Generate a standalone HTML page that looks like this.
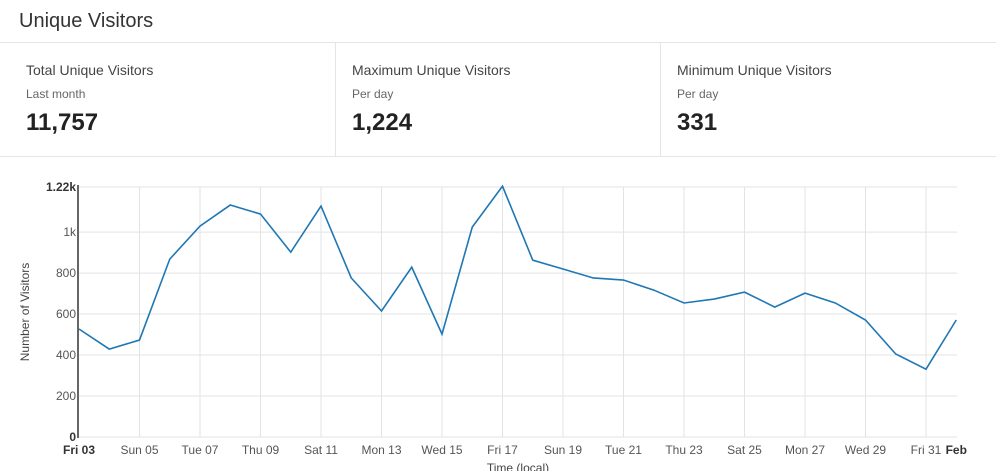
<!DOCTYPE html>
<html><head><meta charset="utf-8"><style>
body{margin:0;width:996px;height:471px;overflow:hidden;background:#fff;font-family:"Liberation Sans",sans-serif;color:#222}
.title{position:absolute;left:19px;top:10px;font-size:20px;color:#333}
.hr{position:absolute;left:0;width:996px;height:1px;background:#e5e5e5}
.card{position:absolute;top:43px;height:113px;width:325px}
.card .l{position:absolute;left:0;top:19px;font-size:14px;color:#444}
.card .s{position:absolute;left:0;top:44px;font-size:12px;color:#666}
.card .v{position:absolute;left:0;top:66px;font-size:24px;font-weight:bold;color:#222}
.sep{position:absolute;top:43px;width:1px;height:113px;background:#e5e5e5}
svg{position:absolute;left:0;top:0}
</style></head><body>
<div class="title">Unique Visitors</div>
<div class="hr" style="top:42px"></div>
<div class="card" style="left:26px"><div class="l">Total Unique Visitors</div><div class="s">Last month</div><div class="v">11,757</div></div>
<div class="sep" style="left:335px"></div>
<div class="card" style="left:352px"><div class="l">Maximum Unique Visitors</div><div class="s">Per day</div><div class="v">1,224</div></div>
<div class="sep" style="left:660px"></div>
<div class="card" style="left:677px"><div class="l">Minimum Unique Visitors</div><div class="s">Per day</div><div class="v">331</div></div>
<div class="hr" style="top:156px"></div>
<svg id="chart" width="996" height="471"></svg>
<script>
const values=[527,429,473,868,1029,1132,1088,902,1127,776,615,829,502,1024,1224,863,820,776,766,717,654,673,707,634,702,654,571,405,331,571];
const xLabels=["Fri 03","Sun 05","Tue 07","Thu 09","Sat 11","Mon 13","Wed 15","Fri 17","Sun 19","Tue 21","Thu 23","Sat 25","Mon 27","Wed 29","Fri 31","Feb"];
const xLabelDays=[0,2,4,6,8,10,12,14,16,18,20,22,24,26,28,29];
const yTicks=[0,200,400,600,800,1000,1220];
const yTickLabels=["0","200","400","600","800","1k","1.22k"];
const NS="http://www.w3.org/2000/svg",svg=document.getElementById("chart");
const x0=79,dx=30.25,y0=437,yMax=1220,yTop=187;
const X=d=>x0+d*dx, Y=v=>y0-(v/yMax)*(y0-yTop);
function mk(t,a,txt){const e=document.createElementNS(NS,t);for(const k in a)e.setAttribute(k,a[k]);if(txt!=null)e.textContent=txt;svg.appendChild(e);return e;}
yTicks.forEach((v,i)=>{
 const g=mk("line",{x1:x0,x2:957,y1:Y(v),y2:Y(v),stroke:"#e3e3e3"});
 
 
 const bold=(i==0||i==yTicks.length-1);
 const t=mk("text",{x:x0-3,y:Y(v)+4,"text-anchor":"end","font-size":12,fill:bold?"#333":"#555","font-weight":bold?"bold":"normal"},yTickLabels[i]);
 
 
});
xLabelDays.forEach((d,i)=>{
 if(i>0&&i<xLabelDays.length-1){const g=mk("line",{x1:X(d),x2:X(d),y1:yTop,y2:y0,stroke:"#e3e3e3"});
 
 }
 const bold=(i==0||i==xLabelDays.length-1);
 const t=mk("text",{x:X(d),y:454,"text-anchor":"middle","font-size":12,fill:bold?"#333":"#555","font-weight":bold?"bold":"normal"},xLabels[i]);
 
 
});
const ax=mk("line",{x1:78,x2:78,y1:yTop-2,y2:y0+1,stroke:"#333","stroke-width":1.5});


const ln=mk("polyline",{points:values.map((v,i)=>X(i)+","+Y(v)).join(" "),fill:"none",stroke:"#1f77b4","stroke-width":1.6});


const yt=mk("text",{x:29,y:312,transform:"rotate(-90 29 312)","text-anchor":"middle","font-size":12,fill:"#444"},"Number of Visitors");


const xt=mk("text",{x:518,y:472,"text-anchor":"middle","font-size":12,fill:"#444"},"Time (local)");


</script>
</body></html>
